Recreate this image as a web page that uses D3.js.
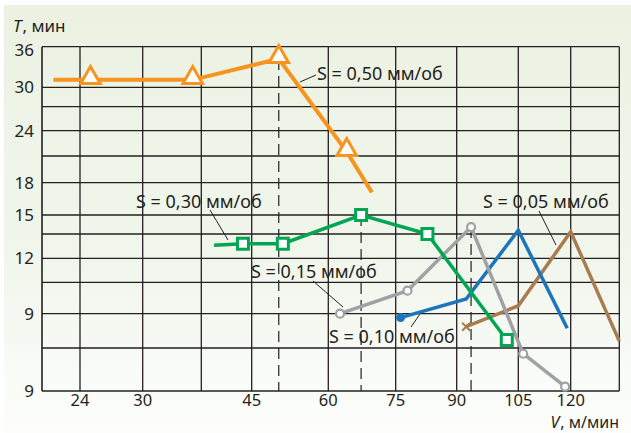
<!DOCTYPE html>
<html>
<head>
<meta charset="utf-8">
<script src="https://cdn.jsdelivr.net/npm/d3@7"></script>
<style>
  html, body { margin: 0; padding: 0; background: #fff; }
  svg { display: block; font-family: 'Noto Sans', 'Open Sans', sans-serif; }
</style>
</head>
<body>
<div id="chart"></div>
<script>
// Tool life T vs cutting speed V for several feeds S (hand-scaled grid).

// Axis ticks / grid (values). The grid is not uniform, so the scales are polylinear.
const xGridValues = [18, 24, 30, 37.5, 45, 60, 75, 90, 105, 120, 135];
const xTickValues = [24, 30, 45, 60, 75, 90, 105, 120];
const yGridValues = [6, 7.5, 9, 10.5, 12, 13.5, 15, 18, 21, 24, 27, 30, 36];
const yTickValues = [6, 9, 12, 15, 18, 24, 30, 36];
const yTickLabels = ['9', '9', '12', '15', '18', '24', '30', '36'];

// Series: S = 0,50 мм/об (orange, triangles)
const s50V = [19.8, 25, 36.4, 50.3, 64.1, 69.7];
const s50T = [31.1, 31.1, 31.1, 34.2, 21.5, 17.1];
const s50Marks = [false, true, true, true, true, false];

// S = 0,30 мм/об (green, squares)
const s30V = [39.4, 43.7, 51.1, 67.3, 82.8, 102.2];
const s30T = [12.8, 12.9, 12.9, 15.0, 13.5, 7.85];
const s30Marks = [false, true, true, true, true, true];

// S = 0,15 мм/об (grey, open circles)
const s15V = [62.6, 77.9, 93.5, 106.4, 118.4];
const s15T = [9.0, 10.1, 14.05, 7.3, 6.15];

// S = 0,10 мм/об (blue)
const s10V = [76.2, 92.3, 105, 119];
const s10T = [8.83, 9.7, 13.8, 8.36];

// S = 0,05 мм/об (brown)
const s05V = [92.3, 105, 120, 135];
const s05T = [8.43, 9.38, 13.68, 7.8];

// peaks marked with dashed verticals
const peakV = [50.3, 67.3, 93.5];
const peakT = [34.2, 15.0, 14.05];

const W = 631, H = 433;
const svg = d3.select('#chart').append('svg').attr('width', W).attr('height', H);

const defs = svg.append('defs');
const grad = defs.append('linearGradient').attr('id', 'bg').attr('x1', 0).attr('y1', 0).attr('x2', 0).attr('y2', 1);
grad.append('stop').attr('offset', '0%').attr('stop-color', '#ebf2e2');
grad.append('stop').attr('offset', '60%').attr('stop-color', '#f1f6ec');
grad.append('stop').attr('offset', '100%').attr('stop-color', '#fdfefc');
svg.append('rect').attr('x', 4).attr('y', 5).attr('width', W - 4).attr('height', H - 5).attr('fill', 'url(#bg)');

const x = d3.scaleLinear().domain(xGridValues)
  .range([42, 80, 142.7, 201.3, 251.7, 328.3, 395.7, 456.7, 518.3, 570.7, 619.3]);
const y = d3.scaleLinear().domain(yGridValues)
  .range([391, 348, 313.7, 282.3, 258.3, 234, 215, 182.7, 156, 130.7, 106.7, 87.3, 46.7]);

const ink = '#231f20';
const x0 = x(xGridValues[0]), x1 = x(xGridValues[xGridValues.length - 1]);
const y0 = y(yGridValues[0]), y1 = y(yGridValues[yGridValues.length - 1]);

const grid = svg.append('g').attr('stroke', ink).attr('stroke-width', 1.3);
grid.selectAll('.gx').data(xGridValues.slice(1)).join('line')
  .attr('x1', d => x(d)).attr('x2', d => x(d)).attr('y1', y0).attr('y2', y1);
grid.selectAll('.gy').data(yGridValues.slice(1)).join('line')
  .attr('y1', d => y(d)).attr('y2', d => y(d)).attr('x1', x0).attr('x2', x1);
// axes a touch heavier
grid.append('line').attr('x1', x0).attr('x2', x0).attr('y1', y0).attr('y2', y1).attr('stroke-width', 1.6);
grid.append('line').attr('x1', x0).attr('x2', x1).attr('y1', y0).attr('y2', y0).attr('stroke-width', 1.6);

// dashed verticals from peaks down to the V axis
svg.append('g').selectAll('line').data(peakV).join('line')
  .attr('x1', d => x(d)).attr('x2', d => x(d))
  .attr('y1', (d, i) => y(peakT[i])).attr('y2', y0)
  .attr('stroke', ink).attr('stroke-width', 1.2).attr('stroke-dasharray', '11,6');

// tick labels
const tickFont = 17;
svg.append('g').selectAll('text').data(xTickValues).join('text')
  .attr('x', d => x(d)).attr('y', 406).attr('text-anchor', 'middle')
  .attr('font-size', 16.5).attr('fill', ink).text(d => d);
svg.append('g').selectAll('text').data(yTickValues).join('text')
  .attr('x', 34).attr('y', d => y(d) + (d === 36 ? 9 : 6)).attr('text-anchor', 'end')
  .attr('font-size', tickFont).attr('fill', ink).text((d, i) => yTickLabels[i]);

// axis titles
const tT = svg.append('text').attr('x', 13).attr('y', 32).attr('font-size', tickFont).attr('fill', ink);
tT.append('tspan').attr('font-style', 'italic').text('T');
tT.append('tspan').attr('dx', 1).text(', мин');
const tV = svg.append('text').attr('x', 619).attr('y', 428).attr('text-anchor', 'end').attr('font-size', 16).attr('fill', ink);
tV.append('tspan').attr('font-style', 'italic').text('V');
tV.append('tspan').attr('dx', 1).text(', м/мин');

const line = d3.line().x(d => x(d[0])).y(d => y(d[1]));
function drawSeries(vs, ts, color, width) {
  const pts = d3.zip(vs, ts);
  svg.append('path').datum(pts).attr('d', line)
    .attr('fill', 'none').attr('stroke', color).attr('stroke-width', width)
    .attr('stroke-linejoin', 'miter');
  return pts;
}

// leader lines + labels
const labels = [
  { text: 'S = 0,50 мм/об', tx: 317, ty: 80, l: [300, 82, 316, 75] },
  { text: 'S = 0,30 мм/об', tx: 136, ty: 208, l: [210, 210, 228, 240] },
  { text: 'S = 0,15 мм/об', tx: 251, ty: 278, l: [313, 281, 343, 307] },
  { text: 'S = 0,10 мм/об', tx: 329, ty: 343, l: [411, 327, 420, 314] },
  { text: 'S = 0,05 мм/об', tx: 483, ty: 208, l: [539, 211, 556, 245] },
];

const orange = '#f7941d', green = '#00a651', grey = '#a0a1a4', blue = '#1c75bc', brown = '#a97c50';

drawSeries(s05V, s05T, brown, 3.5);
const b = d3.zip(s05V, s05T)[0];
svg.append('path').attr('d', `M${x(b[0]) - 4},${y(b[1]) - 4}L${x(b[0]) + 4},${y(b[1]) + 4}M${x(b[0]) - 4},${y(b[1]) + 4}L${x(b[0]) + 4},${y(b[1]) - 4}`)
  .attr('stroke', brown).attr('stroke-width', 2);

drawSeries(s10V, s10T, blue, 3.5);
svg.append('circle').attr('cx', x(s10V[0])).attr('cy', y(s10T[0])).attr('r', 4.5).attr('fill', blue);

const g15 = drawSeries(s15V, s15T, grey, 3.5);
svg.append('g').selectAll('circle').data(g15).join('circle')
  .attr('cx', d => x(d[0])).attr('cy', d => y(d[1])).attr('r', 4)
  .attr('fill', '#fff').attr('stroke', grey).attr('stroke-width', 2.2);

const g30 = drawSeries(s30V, s30T, green, 3.5);
svg.append('g').selectAll('rect').data(g30.filter((d, i) => s30Marks[i])).join('rect')
  .attr('x', d => x(d[0]) - 5.5).attr('y', d => y(d[1]) - 5.5).attr('width', 11).attr('height', 11)
  .attr('fill', '#fff').attr('stroke', green).attr('stroke-width', 3);

const g50 = drawSeries(s50V, s50T, orange, 4);
const tri = d3.symbol().type(d3.symbolTriangle).size(165);
svg.append('g').selectAll('path').data(g50.filter((d, i) => s50Marks[i])).join('path')
  .attr('d', tri).attr('transform', d => `translate(${x(d[0])},${y(d[1]) - 2})`)
  .attr('fill', '#fff').attr('stroke', orange).attr('stroke-width', 3);

const lab = svg.append('g');
labels.forEach(o => {
  lab.append('line').attr('x1', o.l[0]).attr('y1', o.l[1]).attr('x2', o.l[2]).attr('y2', o.l[3])
    .attr('stroke', ink).attr('stroke-width', 1);
  lab.append('text').attr('x', o.tx).attr('y', o.ty).attr('font-size', 18).attr('fill', ink).text(o.text);
});
</script>
</body>
</html>
